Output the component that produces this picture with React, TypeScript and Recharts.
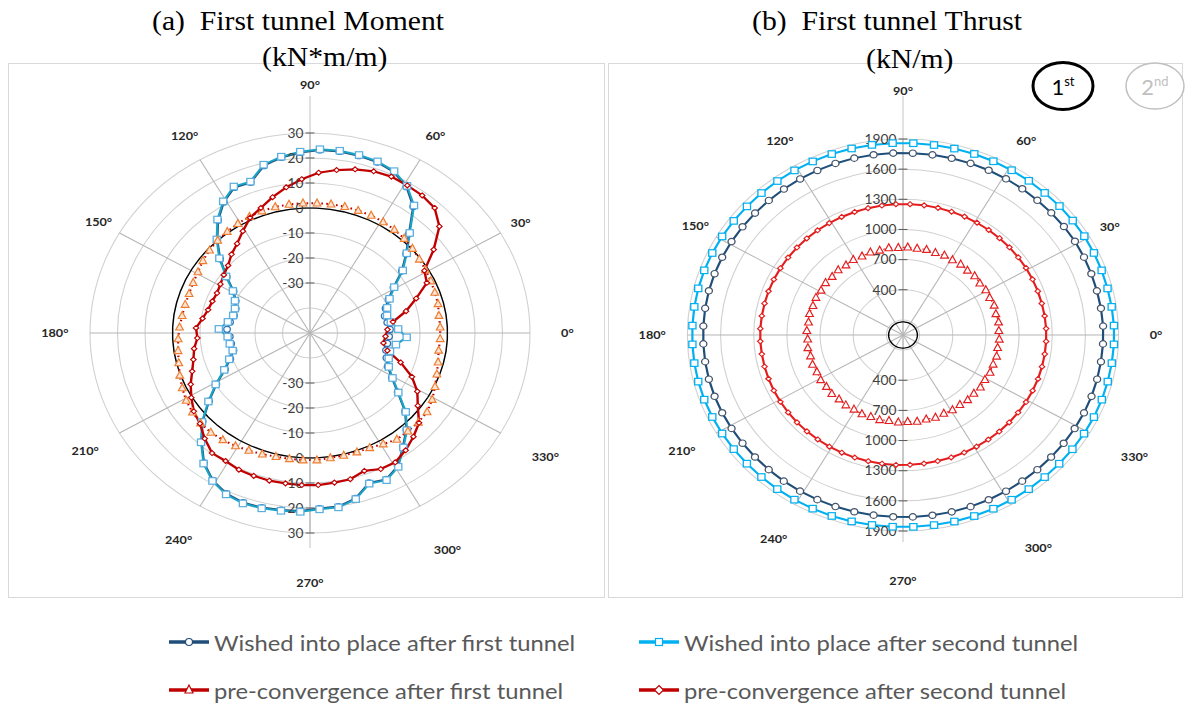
import React from 'react';
import { PolarAngleAxis, PolarGrid, PolarRadiusAxis, Radar, RadarChart } from 'recharts';

// angle of each lining element (deg), 64 elements
const angles = [
  2.81, 8.44, 14.06, 19.69, 25.31, 30.94, 36.56, 42.19, 47.81, 53.44, 59.06, 64.69, 70.31, 75.94, 81.56, 87.19,
  92.81, 98.44, 104.06, 109.69, 115.31, 120.94, 126.56, 132.19, 137.81, 143.44, 149.06, 154.69, 160.31, 165.94, 171.56, 177.19,
  182.81, 188.44, 194.06, 199.69, 205.31, 210.94, 216.56, 222.19, 227.81, 233.44, 239.06, 244.69, 250.31, 255.94, 261.56, 267.19,
  272.81, 278.44, 284.06, 289.69, 295.31, 300.94, 306.56, 312.19, 317.81, 323.44, 329.06, 334.69, 340.31, 345.94, 351.56, 357.19,
];

// (a) moment, kN*m/m
const wishedFirstMoment = [
  -20.9, -21.6, -22.0, -20.8, -18.4, -14.6, -8.4, -2.8, 3.6, 13.0, 18.2, 21.3, 22.6, 23.1, 23.4, 23.3,
  22.3, 21.0, 19.0, 14.0, 14.4, 11.0, 6.1, 0.2, -5.9, -12.3, -17.6, -20.1, -21.3, -21.5, -20.6, -19.8,
  -20.8, -21.0, -21.3, -19.2, -15.8, -10.3, -4.3, 2.7, 8.7, 14.7, 18.7, 21.1, 22.1, 22.0, 21.6, 21.3,
  20.3, 20.2, 18.2, 13.7, 14.8, 12.1, 6.7, 2.2, -3.3, -10.3, -15.3, -18.7, -20.5, -21.5, -21.6, -21.2,
];
const wishedSecondMoment = [
  -17.9, -20.3, -21.1, -20.2, -18.0, -14.3, -8.0, -2.5, 4.0, 13.5, 18.6, 21.6, 22.9, 23.4, 23.7, 23.6,
  22.6, 21.3, 19.4, 14.3, 14.8, 11.4, 6.5, 0.5, -5.5, -12.0, -17.3, -19.8, -21.0, -21.2, -19.8, -16.8,
  -20.0, -20.5, -21.0, -18.8, -15.5, -10.0, -4.0, 3.0, 9.0, 15.0, 19.0, 21.4, 22.4, 22.3, 21.9, 21.6,
  20.6, 20.5, 18.5, 14.0, 15.1, 12.4, 7.0, 2.5, -3.0, -10.0, -15.0, -18.3, -19.6, -20.0, -18.4, -14.8,
];
const preFirstMoment = [
  -2.6, -2.6, -2.0, -1.8, -1.4, -1.0, -0.5, 0.3, 1.0, 1.5, 1.8, 2.0, 2.0, 2.1, 2.1, 2.0,
  2.0, 2.0, 2.0, 1.8, 1.5, 1.0, 0.5, 0.0, -0.7, -1.5, -2.5, -3.0, -3.3, -3.2, -3.0, -2.5,
  -2.0, -1.5, -0.8, 0.3, 1.4, 2.5, 3.2, 3.7, 3.7, 3.2, 2.7, 2.0, 1.5, 1.0, 0.9, 0.9,
  0.9, 0.5, 0.5, 0.6, 0.8, 1.8, 3.0, 3.0, 3.2, 3.0, 1.8, 0.3, -1.0, -2.0, -2.7, -2.6,
];
const preSecondMoment = [
  -21.8, -19.5, -14.0, -9.0, -3.0, -1.5, 6.0, 13.5, 17.5, 18.5, 18.8, 19.2, 18.7, 17.5, 15.9, 14.2,
  11.6, 8.9, 6.0, 3.1, 1.0, -2.5, -5.5, -7.5, -9.8, -11.0, -12.0, -12.6, -12.3, -11.8, -10.5, -8.5,
  -9.0, -7.4, -6.3, -4.5, -2.0, 0.3, 2.6, 4.0, 7.0, 9.8, 9.7, 10.5, 10.7, 10.9, 10.8, 10.9,
  10.9, 10.5, 10.3, 8.6, 10.2, 10.3, 8.4, 6.0, 3.5, -1.2, -4.5, -9.0, -15.0, -21.0, -23.0, -22.5,
];

// (b) thrust, kN/m
const wishedFirstThrust = [
  1762, 1760, 1758, 1759, 1761, 1763, 1762, 1760, 1759, 1761, 1762, 1763, 1764, 1763, 1762, 1761,
  1762, 1763, 1764, 1763, 1761, 1760, 1758, 1757, 1756, 1757, 1758, 1759, 1760, 1760, 1759, 1758,
  1758, 1759, 1760, 1760, 1759, 1758, 1757, 1757, 1758, 1760, 1761, 1762, 1763, 1763, 1762, 1761,
  1762, 1763, 1764, 1764, 1763, 1762, 1760, 1759, 1758, 1759, 1760, 1761, 1761, 1760, 1760, 1761,
];
const wishedSecondThrust = [
  1860, 1858, 1857, 1858, 1860, 1862, 1861, 1860, 1858, 1860, 1861, 1862, 1863, 1862, 1861, 1860,
  1861, 1862, 1863, 1862, 1860, 1859, 1857, 1856, 1855, 1856, 1857, 1858, 1859, 1859, 1858, 1857,
  1857, 1858, 1859, 1859, 1858, 1857, 1856, 1856, 1857, 1859, 1860, 1861, 1862, 1862, 1861, 1860,
  1861, 1862, 1863, 1863, 1862, 1861, 1859, 1858, 1857, 1858, 1859, 1860, 1860, 1859, 1859, 1860,
];
const preFirstThrust = [
  818, 824, 816, 826, 817, 823, 815, 825, 818, 826, 820, 827, 819, 826, 820, 825,
  819, 826, 818, 825, 817, 824, 816, 823, 815, 822, 814, 821, 815, 822, 814, 821,
  813, 820, 812, 819, 811, 818, 812, 819, 811, 818, 812, 819, 813, 820, 812, 819,
  813, 820, 814, 821, 813, 820, 814, 821, 815, 822, 814, 821, 816, 823, 815, 822,
];
const preSecondThrust = [
  1246, 1245, 1244, 1245, 1246, 1247, 1248, 1249, 1250, 1251, 1252, 1253, 1253, 1254, 1254, 1253,
  1253, 1252, 1251, 1250, 1249, 1248, 1247, 1246, 1245, 1244, 1243, 1242, 1242, 1241, 1241, 1242,
  1242, 1241, 1241, 1242, 1242, 1243, 1243, 1244, 1244, 1244, 1245, 1245, 1245, 1244, 1244, 1244,
  1243, 1243, 1243, 1244, 1244, 1245, 1245, 1246, 1246, 1246, 1247, 1247, 1247, 1246, 1246, 1246,
];

const angleTicks = [0, 30, 60, 90, 120, 150, 180, 210, 240, 270, 300, 330];
const momentTicks = [-40, -30, -20, -10, 0, 10, 20, 30];
const thrustTicks = [100, 400, 700, 1000, 1300, 1600, 1900];
const MOMENT_ZERO = 0;
const THRUST_REF = 80;

const momentData = angles.map((angle, i) => ({
  angle,
  wf: wishedFirstMoment[i],
  ws: wishedSecondMoment[i],
  pf: preFirstMoment[i],
  ps: preSecondMoment[i],
}));
const thrustData = angles.map((angle, i) => ({
  angle,
  wf: wishedFirstThrust[i],
  ws: wishedSecondThrust[i],
  pf: preFirstThrust[i],
  ps: preSecondThrust[i],
}));

const DARK_BLUE = '#1F4E79';
const LIGHT_BLUE = '#00B0F0';
const RED = '#C00000';
const BRIGHT_RED = '#E41E1E';
const ORANGE = '#ED7D31';
const STRETCH = 1.1;
const SANS = 'Lato, "Open Sans", sans-serif';
const SERIF = '"Liberation Serif", "Times New Roman", serif';

// how far each angle label sits outside the outer ring (excel placed them unevenly)
const labelGap: Record<number, number> = {
  0: 34, 30: 21, 60: 28, 90: 48, 120: 28, 150: 22, 180: 32, 210: 36, 240: 39, 270: 50, 300: 50, 330: 47,
};
const BASE_GAP = 30;

const circleDot = (stroke: string, r: number) => (p: any) => (
  <circle key={`c${p.index}`} cx={p.cx} cy={p.cy} r={r} fill="#fff" stroke={stroke} strokeWidth={1.2} />
);
const squareDot = (stroke: string, s: number) => (p: any) => (
  <rect key={`s${p.index}`} x={p.cx - s / 2} y={p.cy - s / 2} width={s} height={s} fill="#fff" stroke={stroke} strokeWidth={1.2} />
);
const triangleDot = (stroke: string, fill: string, s: number) => (p: any) => (
  <polygon
    key={`t${p.index}`}
    points={`${p.cx},${p.cy - s * 0.6} ${p.cx - s / 2},${p.cy + s * 0.4} ${p.cx + s / 2},${p.cy + s * 0.4}`}
    fill={fill}
    stroke={stroke}
    strokeWidth={1.1}
  />
);
const diamondDot = (stroke: string, s: number) => (p: any) => (
  <polygon
    key={`d${p.index}`}
    points={`${p.cx},${p.cy - s / 2} ${p.cx + s / 2},${p.cy} ${p.cx},${p.cy + s / 2} ${p.cx - s / 2},${p.cy}`}
    fill="#fff"
    stroke={stroke}
    strokeWidth={1.1}
  />
);

const AngleTick = (props: any) => {
  const { x, y, payload } = props;
  const a = (payload.value * Math.PI) / 180;
  const extra = (labelGap[payload.value] ?? BASE_GAP) - BASE_GAP;
  return (
    <text
      x={x + Math.cos(a) * extra}
      y={y - Math.sin(a) * extra}
      textAnchor="middle"
      dominantBaseline="central"
      fontFamily={SANS}
      fontWeight={700}
      fontSize={11.5}
      fill="#262626"
    >
      {`${payload.value}°`}
    </text>
  );
};

const radiusTick = (cx: number, cy: number, hide: number) => (props: any) => {
  const { y, payload } = props;
  if (payload.value === hide) return <g />;
  const r = cy - y;
  return (
    <g>
      {[cy - r, cy + r].map((ty, k) => (
        <g key={k}>
          <line x1={cx - 4} x2={cx + 4} y1={ty} y2={ty} stroke="#595959" strokeWidth={1} />
          <text x={cx - 6} y={ty} textAnchor="end" dominantBaseline="central" fontFamily={SANS} fontSize={12.5} fill="#404040">
            {payload.value}
          </text>
        </g>
      ))}
    </g>
  );
};

const frame: React.CSSProperties = { position: 'absolute', border: '1px solid #d9d9d9', boxSizing: 'border-box' };

const M = { left: 8, top: 63, w: 597, h: 535, cx: 302, cy: 270, r: 200 };
const T = { left: 608, top: 63, w: 575, h: 535, cx: 295, cy: 272, r: 196 };

const LegendIcon = ({ color, kind }: { color: string; kind: string }) => (
  <svg width={44} height={14} style={{ display: 'block' }}>
    <line x1={2} x2={42} y1={7} y2={7} stroke={color} strokeWidth={3.5} />
    {kind === 'circle' && <circle cx={22} cy={7} r={3.5} fill="#fff" stroke={color} strokeWidth={1.2} />}
    {kind === 'square' && <rect x={18.5} y={3.5} width={7} height={7} fill="#fff" stroke={color} strokeWidth={1.2} />}
    {kind === 'triangle' && <polygon points="22,2 18,10 26,10" fill="#fff" stroke={color} strokeWidth={1.2} />}
    {kind === 'diamond' && <polygon points="22,2.5 26.5,7 22,11.5 17.5,7" fill="#fff" stroke={color} strokeWidth={1.2} />}
  </svg>
);

const legendItems = [
  { x: 167, y: 642, color: DARK_BLUE, kind: 'circle', label: 'Wished into place after first tunnel' },
  { x: 637, y: 642, color: LIGHT_BLUE, kind: 'square', label: 'Wished into place after second tunnel' },
  { x: 167, y: 690, color: RED, kind: 'triangle', label: 'pre-convergence after first tunnel' },
  { x: 637, y: 690, color: RED, kind: 'diamond', label: 'pre-convergence after second tunnel' },
];

const titleStyle = (left: number, top: number): React.CSSProperties => ({
  position: 'absolute',
  left,
  top,
  fontFamily: SERIF,
  fontSize: 27,
  lineHeight: '31px',
  whiteSpace: 'pre',
  color: '#000',
  transform: `scaleX(${STRETCH})`,
  transformOrigin: 'left center',
});

// vertical value-axis line that runs past the outer ring
const AxisLine = ({ x, y1, y2 }: { x: number; y1: number; y2: number }) => (
  <svg style={{ position: 'absolute', left: x - 1, top: y1 }} width={2} height={y2 - y1}>
    <line x1={1} x2={1} y1={0} y2={y2 - y1} stroke="#c4c4c4" strokeWidth={1} />
  </svg>
);

export default function App() {
  return (
    <div style={{ position: 'absolute', left: 0, top: 0, width: 1186, height: 706, background: '#fff', overflow: 'hidden' }}>
      <div style={{ ...frame, left: M.left, top: M.top, width: M.w, height: M.h }} />
      <div style={{ ...frame, left: T.left, top: T.top, width: T.w, height: T.h }} />
      <AxisLine x={M.left + M.cx} y1={96} y2={548} />
      <AxisLine x={T.left + T.cx} y1={96} y2={542} />

      <div style={{ position: 'absolute', left: M.left, top: M.top, width: M.w, height: M.h, transform: `scaleX(${STRETCH})`, transformOrigin: `${M.cx}px ${M.cy}px` }}>
        <RadarChart width={M.w} height={M.h} data={momentData} cx={M.cx} cy={M.cy} outerRadius={M.r} startAngle={0} endAngle={360} margin={{ top: 0, right: 0, bottom: 0, left: 0 }}>
          <PolarGrid gridType="circle" radialLines={false} stroke="#d0d0d0" />
          <PolarGrid gridType="circle" polarRadius={[]} stroke="#b5b5b5" />
          <PolarAngleAxis dataKey="angle" type="number" domain={[0, 360]} ticks={angleTicks} tick={<AngleTick />} tickSize={BASE_GAP} tickLine={false} axisLine={false} />
          <PolarRadiusAxis angle={90} type="number" domain={[-50, 30]} ticks={momentTicks} tick={radiusTick(M.cx, M.cy, -40)} axisLine={false} tickLine={false} allowDataOverflow />
          <Radar dataKey={() => MOMENT_ZERO} stroke="#000" strokeWidth={1.3} fill="none" dot={false} isAnimationActive={false} />
          <Radar dataKey="wf" stroke={DARK_BLUE} strokeWidth={2} fill="none" dot={circleDot('#2E75B6', 3)} isAnimationActive={false} />
          <Radar dataKey="ws" stroke="#1BA3C6" strokeWidth={2} fill="none" dot={squareDot('#5BAEE0', 6.5)} isAnimationActive={false} />
          <Radar dataKey="pf" stroke={RED} strokeWidth={2} strokeDasharray="1.5 3" fill="none" dot={triangleDot(ORANGE, '#FBE5D6', 7)} isAnimationActive={false} />
          <Radar dataKey="ps" stroke={RED} strokeWidth={2.2} fill="none" dot={diamondDot(RED, 5)} isAnimationActive={false} />
        </RadarChart>
      </div>

      <div style={{ position: 'absolute', left: T.left, top: T.top, width: T.w, height: T.h, transform: `scaleX(${STRETCH})`, transformOrigin: `${T.cx}px ${T.cy}px` }}>
        <RadarChart width={T.w} height={T.h} data={thrustData} cx={T.cx} cy={T.cy} outerRadius={T.r} startAngle={0} endAngle={360} margin={{ top: 0, right: 0, bottom: 0, left: 0 }}>
          <PolarGrid gridType="circle" radialLines={false} stroke="#d0d0d0" />
          <PolarGrid gridType="circle" polarRadius={[]} stroke="#b5b5b5" />
          <PolarAngleAxis dataKey="angle" type="number" domain={[0, 360]} ticks={angleTicks} tick={<AngleTick />} tickSize={BASE_GAP} tickLine={false} axisLine={false} />
          <PolarRadiusAxis angle={90} type="number" domain={[-50, 1900]} ticks={thrustTicks} tick={radiusTick(T.cx, T.cy, 100)} axisLine={false} tickLine={false} allowDataOverflow />
          <Radar dataKey={() => THRUST_REF} stroke="#000" strokeWidth={1.3} fill="none" dot={false} isAnimationActive={false} />
          <Radar dataKey="ws" stroke={LIGHT_BLUE} strokeWidth={2} fill="none" dot={squareDot(LIGHT_BLUE, 6.5)} isAnimationActive={false} />
          <Radar dataKey="wf" stroke={DARK_BLUE} strokeWidth={2} fill="none" dot={circleDot('#44546A', 3.2)} isAnimationActive={false} />
          <Radar dataKey="ps" stroke={BRIGHT_RED} strokeWidth={2} fill="none" dot={diamondDot(BRIGHT_RED, 5)} isAnimationActive={false} />
          <Radar dataKey="pf" stroke={BRIGHT_RED} strokeWidth={1} strokeDasharray="2 4" fill="none" dot={triangleDot(BRIGHT_RED, '#fff', 7)} isAnimationActive={false} />
        </RadarChart>
      </div>

      <div style={titleStyle(152, 6)}>(a)  First tunnel Moment</div>
      <div style={titleStyle(262, 42)}>(kN*m/m)</div>
      <div style={titleStyle(752, 6)}>(b)  First tunnel Thrust</div>
      <div style={titleStyle(866, 44)}>(kN/m)</div>

      <svg style={{ position: 'absolute', left: 1020, top: 55 }} width={166} height={64}>
        <ellipse cx={43} cy={31} rx={30} ry={23.5} fill="#fff" stroke="#000" strokeWidth={3} />
        <text x={43} y={40} textAnchor="middle" fontFamily={SANS} fontSize={22} fill="#000">
          1<tspan fontSize={13} dy={-9}>st</tspan>
        </text>
        <ellipse cx={135} cy={31} rx={29} ry={23} fill="#fff" stroke="#bfbfbf" strokeWidth={1.5} />
        <text x={135} y={40} textAnchor="middle" fontFamily={SANS} fontSize={22} fill="#bfbfbf">
          2<tspan fontSize={13} dy={-9}>nd</tspan>
        </text>
      </svg>

      {legendItems.map((it) => (
        <div key={it.label} style={{ position: 'absolute', left: it.x, top: it.y - 16, height: 32, display: 'flex', alignItems: 'center' }}>
          <LegendIcon color={it.color} kind={it.kind} />
          <span
            style={{
              display: 'inline-block',
              fontFamily: SANS,
              fontSize: 22,
              color: '#595959',
              marginLeft: 3,
              whiteSpace: 'pre',
              transform: 'scaleX(1.08)',
              transformOrigin: 'left center',
            }}
          >
            {it.label}
          </span>
        </div>
      ))}
    </div>
  );
}
